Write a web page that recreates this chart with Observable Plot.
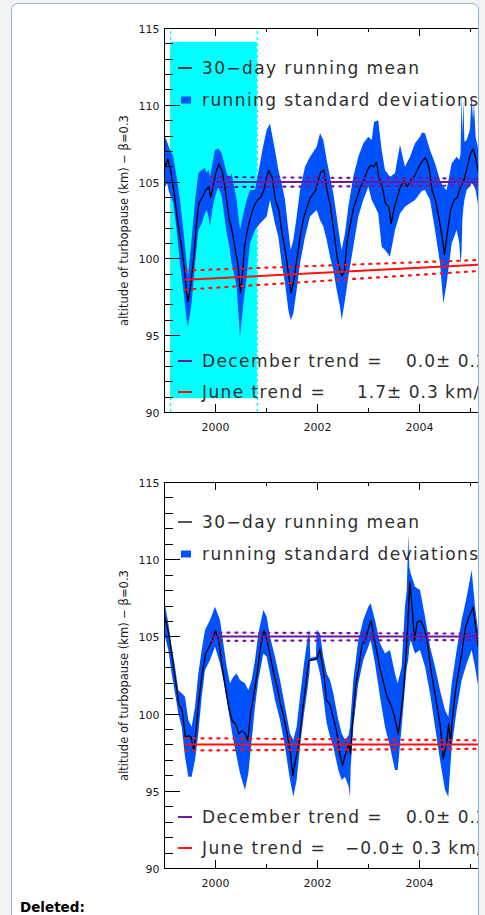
<!DOCTYPE html>
<html>
<head>
<meta charset="utf-8">
<script src="https://cdn.jsdelivr.net/npm/d3@7"></script>
<script src="https://cdn.jsdelivr.net/npm/@observablehq/plot@0.6"></script>
<style>
html,body{margin:0;padding:0;}
body{width:485px;height:915px;background:#f2f2f2;position:relative;overflow:hidden;font-family:"DejaVu Sans",sans-serif;}
#box{position:absolute;left:11px;top:3px;width:466px;height:1000px;border:1px solid #8bb6da;border-radius:7px;background:#fff;overflow:hidden;}
.chart{position:absolute;left:92px;width:437px;}
.chart svg{max-width:none !important;display:block;}
#c1{top:4px;}
#c2{top:458px;}
#deleted{position:absolute;left:8px;top:895px;line-height:16px;font:bold 13.5px "DejaVu Sans",Verdana,sans-serif;color:#000;}
</style>
</head>
<body>
<div id="box">
  <div id="c1" class="chart"></div>
  <div id="c2" class="chart"></div>
  <div id="deleted">Deleted:</div>
</div>
<script>
// ---------- axes ----------
const xDomain = [1999, 2006];
const yDomain = [90, 115];
const yTickLabels = [90, 95, 100, 105, 110, 115];
const yMinorTicks = [90,91,92,93,94,95,96,97,98,99,100,101,102,103,104,105,106,107,108,109,110,111,112,113,114,115];
const xTickLabels = [2000, 2002, 2004, 2006];
const xMinorTicks = [2000, 2001, 2002, 2003, 2004, 2005, 2006];
const yLabel = "altitude of turbopause (km) \u2212 \u03B2=0.3";

// ---------- legend texts ----------
const legendLabels = ["30\u2212day running mean", "running standard deviations"];
const trendNames = ["December trend =", "June trend ="];
const trendValues1 = ["0.0\u00B1 0.2 km/decade", "1.7\u00B1 0.3 km/decade"];
const trendValues2 = ["0.0\u00B1 0.2 km/decade", "\u22120.0\u00B1 0.3 km/decade"];

// ---------- highlight (top chart) ----------
const highlightYears = [1999.12, 2000.82];
const highlightKm = [90.9, 114.1];

// ---------- chart 1: 30-day running mean [year, km] ----------
const mean1 = [
[1999.0,106.2],[1999.02,106.0],[1999.065,106.5],[1999.118,105.8],[1999.183,104.45],[1999.248,102.7],[1999.314,101.2],
[1999.379,99.7],[1999.431,97.9],[1999.458,97.2],[1999.51,98.2],[1999.575,100.1],[1999.627,102.3],[1999.673,103.6],
[1999.739,104.0],[1999.804,104.45],[1999.869,104.7],[1999.902,104.0],[1999.935,104.45],[2000.0,105.5],[2000.065,106.2],
[2000.131,105.7],[2000.196,104.45],[2000.261,102.7],[2000.327,101.8],[2000.392,100.5],[2000.438,99.7],[2000.49,97.8],
[2000.523,98.8],[2000.569,100.8],[2000.621,101.8],[2000.686,102.7],[2000.752,103.4],[2000.817,103.8],[2000.882,104.0],
[2000.948,104.45],[2001.0,105.3],[2001.046,105.75],[2001.111,105.3],[2001.176,103.8],[2001.242,103.2],[2001.307,101.6],
[2001.373,100.5],[2001.438,98.8],[2001.484,97.8],[2001.536,98.6],[2001.601,100.1],[2001.667,101.6],[2001.732,102.7],
[2001.797,103.4],[2001.863,104.0],[2001.961,104.45],[2002.059,105.6],[2002.124,105.8],[2002.19,104.45],[2002.255,103.4],
[2002.32,101.8],[2002.386,100.1],[2002.451,99.1],[2002.484,98.9],[2002.529,99.2],[2002.582,101.2],[2002.647,102.3],
[2002.712,103.4],[2002.778,104.0],[2002.843,104.7],[2002.908,105.1],[2002.974,105.75],[2003.039,106.1],[2003.105,106.0],
[2003.157,106.3],[2003.203,105.3],[2003.268,104.7],[2003.333,103.6],[2003.399,103.4],[2003.444,102.3],[2003.497,103.2],
[2003.562,104.0],[2003.627,104.7],[2003.693,105.1],[2003.758,104.7],[2003.824,105.1],[2003.889,105.3],[2003.954,105.75],
[2004.02,106.2],[2004.118,106.6],[2004.183,106.0],[2004.248,104.45],[2004.314,103.8],[2004.379,102.7],[2004.444,101.4],
[2004.49,100.3],[2004.542,101.6],[2004.608,103.15],[2004.673,103.8],[2004.739,104.0],[2004.804,104.67],[2004.869,105.1],
[2004.935,105.97],[2005.0,106.84],[2005.052,107.16],[2005.098,106.62],[2005.163,105.54],[2005.229,104.45],[2005.294,104.0]
];

// ---------- chart 1: running standard deviation band [year, upper, lower] ----------
const band1 = [
[1999.0,108.0,104.8],[1999.02,107.92,104.67],[1999.06,107.6,104.9],[1999.1,107.2,104.3],[1999.183,106.62,103.59],
[1999.248,105.32,101.85],[1999.314,103.8,99.68],[1999.379,101.85,97.94],[1999.444,99.68,95.99],[1999.47,98.81,95.55],
[1999.54,101.2,97.07],[1999.61,103.8,99.68],[1999.673,105.54,101.85],[1999.739,105.75,102.28],[1999.8,105.9,102.9],
[1999.837,105.54,103.15],[1999.87,105.8,102.8],[1999.902,105.32,102.07],[1999.95,106.2,103.2],[2000.0,107.06,104.02],
[2000.065,107.16,104.67],[2000.131,106.84,104.02],[2000.229,105.54,101.63],[2000.28,105.2,100.8],[2000.327,105.54,99.68],
[2000.425,103.8,98.16],[2000.49,101.85,94.9],[2000.556,102.93,97.07],[2000.621,103.8,98.81],[2000.686,104.45,100.98],
[2000.784,104.45,101.85],[2000.882,106.19,102.28],[2000.95,107.4,102.5],[2001.013,108.36,102.72],[2001.078,108.79,103.8],
[2001.176,107.06,102.28],[2001.242,105.75,101.41],[2001.307,104.89,99.68],[2001.373,103.8,98.38],[2001.438,101.85,96.64],
[2001.484,100.55,95.99],[2001.536,101.2,96.42],[2001.601,102.72,97.94],[2001.667,104.45,99.68],[2001.765,105.97,101.41],
[2001.863,106.62,102.72],[2001.993,107.27,103.15],[2002.059,108.14,102.5],[2002.124,107.71,102.07],[2002.19,106.4,101.2],
[2002.255,105.32,100.11],[2002.32,104.24,99.24],[2002.386,102.72,97.94],[2002.451,101.2,96.86],[2002.484,100.55,95.99],
[2002.549,101.63,97.29],[2002.614,103.37,98.81],[2002.712,105.32,100.76],[2002.81,106.62,102.72],[2002.908,107.49,103.8],
[2003.007,107.92,104.67],[2003.072,107.71,103.8],[2003.12,108.9,103.5],[2003.2,109.0,102.93],[2003.268,107.06,100.76],
[2003.333,105.75,100.55],[2003.431,105.32,100.11],[2003.529,105.54,101.85],[2003.627,107.4,102.93],[2003.725,105.97,103.37],
[2003.824,106.62,103.59],[2003.922,107.49,103.8],[2004.02,107.92,104.24],[2004.06,108.2,104.4],[2004.118,108.14,104.45],
[2004.216,107.06,103.8],[2004.314,106.19,101.85],[2004.412,105.1,99.68],[2004.477,104.67,97.07],[2004.542,104.45,98.38],
[2004.641,106.19,100.98],[2004.739,106.62,101.85],[2004.79,106.4,101.0],[2004.815,106.8,99.6],[2004.835,110.7,100.5],
[2004.85,108.0,102.5],[2004.87,110.3,103.3],[2004.89,107.6,103.8],[2004.935,107.71,104.45],[2005.0,108.4,104.7],
[2005.03,110.6,104.89],[2005.06,109.0,104.8],[2005.078,110.2,104.7],[2005.11,107.9,104.45],[2005.196,106.62,102.72],
[2005.294,105.54,102.28],[2005.4,105.0,101.5]
];

// ---------- chart 1: trends [year, km] ----------
const decMid1 = [[1999.92,105.0],[2006.0,105.0]];
const decHi1  = [[1999.92,105.33],[2005.29,105.22]];
const decLo1  = [[1999.92,104.67],[2005.29,104.78]];
const junMid1 = [[1999.41,98.64],[2005.29,99.64]];
const junHi1  = [[1999.41,99.24],[2005.29,99.94]];
const junLo1  = [[1999.41,98.0],[2005.29,99.24]];

// ---------- chart 2: 30-day running mean [year, km] ----------
const mean2 = [
[1999.0,106.3],[1999.039,105.84],[1999.085,105.2],[1999.15,103.68],[1999.216,102.17],[1999.281,100.66],[1999.346,100.23],
[1999.412,98.5],[1999.477,98.61],[1999.523,98.5],[1999.575,97.64],[1999.627,99.15],[1999.673,100.88],[1999.739,102.6],
[1999.804,103.9],[1999.869,104.33],[1999.935,104.76],[2000.0,105.41],[2000.065,104.76],[2000.131,103.04],[2000.196,101.74],
[2000.261,100.45],[2000.327,99.58],[2000.392,99.37],[2000.458,98.72],[2000.523,98.93],[2000.588,98.72],[2000.634,98.29],
[2000.686,100.01],[2000.752,101.31],[2000.817,102.6],[2000.882,104.33],[2000.948,105.41],[2001.013,104.76],[2001.078,103.68],
[2001.144,102.6],[2001.209,101.74],[2001.275,100.66],[2001.34,99.8],[2001.405,98.72],[2001.471,97.42],[2001.516,96.02],
[2001.569,96.99],[2001.634,98.07],[2001.699,100.01],[2001.765,101.74],[2001.83,103.47],[2001.993,103.58],[2002.046,104.2],
[2002.092,103.25],[2002.124,102.6],[2002.176,100.88],[2002.241,100.66],[2002.307,99.8],[2002.373,98.93],[2002.438,97.42],
[2002.49,96.67],[2002.549,97.42],[2002.614,98.07],[2002.647,97.42],[2002.68,99.15],[2002.745,101.74],[2002.81,103.04],
[2002.876,104.55],[2002.941,104.76],[2003.007,105.63],[2003.052,106.06],[2003.105,104.98],[2003.17,103.9],[2003.235,102.82],
[2003.301,101.96],[2003.366,101.09],[2003.431,100.66],[2003.497,100.01],[2003.582,98.72],[2003.627,99.8],[2003.68,101.31],
[2003.725,103.25],[2003.771,105.84],[2003.81,108.54],[2003.856,106.92],[2003.902,104.76],[2003.954,105.95],[2004.02,106.06],
[2004.085,105.63],[2004.15,104.76],[2004.216,103.04],[2004.281,101.74],[2004.346,100.45],[2004.412,99.15],[2004.464,97.1],
[2004.529,98.07],[2004.575,99.37],[2004.608,98.07],[2004.641,99.58],[2004.706,101.52],[2004.771,102.82],[2004.837,104.12],
[2004.902,105.63],[2004.967,106.27],[2005.052,106.92],[2005.118,105.2],[2005.183,103.68],[2005.261,102.6]
];

// ---------- chart 2: running standard deviation band [year, upper, lower] ----------
const band2 = [
[1999.0,107.2,105.2],[1999.02,107.03,104.98],[1999.085,105.84,104.12],[1999.15,104.33,102.6],[1999.216,103.04,101.31],
[1999.281,101.52,100.01],[1999.346,101.31,99.15],[1999.412,101.09,97.21],[1999.477,99.58,95.91],[1999.542,99.15,95.91],
[1999.608,100.45,96.99],[1999.673,102.6,98.72],[1999.739,104.12,101.09],[1999.804,105.41,102.82],[1999.902,106.06,103.47],
[2000.0,106.92,104.33],[2000.098,106.06,103.25],[2000.163,104.55,102.17],[2000.229,103.04,100.88],[2000.294,101.96,99.58],
[2000.359,102.39,98.29],[2000.425,102.6,97.21],[2000.49,102.17,96.13],[2000.588,101.96,95.05],[2000.654,101.52,96.13],
[2000.719,102.17,98.29],[2000.784,103.47,100.45],[2000.85,105.2,102.17],[2000.948,106.71,103.9],[2001.013,106.27,103.68],
[2001.078,104.98,102.6],[2001.176,103.68,100.88],[2001.275,102.17,99.58],[2001.373,100.45,97.85],[2001.471,98.72,95.7],
[2001.536,98.29,94.62],[2001.601,99.15,95.7],[2001.667,101.09,97.85],[2001.745,103.25,100.01],[2001.81,104.76,101.52],
[2001.85,105.41,102.6],[2001.87,103.6,103.4],[2001.98,103.7,103.45],[2001.993,105.41,103.47],[2002.059,105.2,102.6],
[2002.124,103.68,101.09],[2002.19,102.6,99.37],[2002.255,102.17,98.5],[2002.32,101.31,97.85],[2002.418,99.58,96.34],
[2002.484,98.72,95.7],[2002.549,98.29,95.91],[2002.62,98.6,95.3],[2002.647,99.15,94.62],[2002.66,99.8,96.5],
[2002.712,102.17,99.15],[2002.81,104.76,101.96],[2002.908,106.06,103.47],[2003.007,106.92,104.33],[2003.052,107.14,104.76],
[2003.137,106.06,103.25],[2003.235,104.55,101.09],[2003.333,103.9,99.15],[2003.431,104.12,97.85],[2003.529,102.6,96.34],
[2003.582,101.96,96.34],[2003.66,103.04,99.15],[2003.725,106.92,101.74],[2003.76,108.0,103.0],[2003.79,111.6,103.5],
[2003.81,109.5,104.3],[2003.837,109.08,104.76],[2003.922,108.22,103.9],[2004.02,108.0,104.12],[2004.118,106.27,103.04],
[2004.216,104.33,101.31],[2004.314,103.04,99.15],[2004.412,101.52,96.99],[2004.51,100.23,95.05],[2004.575,99.8,94.62],
[2004.641,101.96,97.85],[2004.739,104.12,100.23],[2004.837,106.06,102.17],[2004.935,107.57,103.25],[2005.033,109.3,104.12],
[2005.098,106.92,103.04],[2005.183,104.76,101.31],[2005.261,103.68,100.45]
];

// ---------- chart 2: trends [year, km] ----------
const decMid2 = [[1999.92,105.03],[2006.0,105.03]];
const decHi2  = [[1999.92,105.28],[2005.29,105.21]];
const decLo2  = [[1999.92,104.74],[2005.29,104.8]];
const junMid2 = [[1999.41,98.03],[2006.0,98.03]];
const junHi2  = [[1999.41,98.44],[2005.29,98.3]];
const junLo2  = [[1999.41,97.64],[2005.29,97.75]];

// ---------- styling ----------
const BLUE = "#0052ff", CYAN = "#00ffff", PURPLE = "#6a1a9e", RED = "#ff1010";
const FONT = "DejaVu Sans, sans-serif";

function drawChart(el, o) {
  const mL = 60, mT = 20, mR = 20, mB = 30;
  const width = mL + 357 + mR;
  const height = mT + o.frameH + mB;
  const band = o.band.map(([t, hi, lo]) => ({t, hi, lo}));
  const mean = o.mean.map(([t, v]) => ({t, v}));
  const tl = (pts, stroke, dash) => Plot.line(pts.map(([t, v]) => ({t, v})), {
    x: "t", y: "v", stroke, strokeWidth: dash ? 2.2 : 2, strokeDasharray: dash, clip: true
  });
  const marks = [];
  if (o.highlight) {
    marks.push(Plot.ruleX(highlightYears, {x: d => d, y1: yDomain[0], y2: yDomain[1], stroke: CYAN, strokeWidth: 1.3, strokeDasharray: "3,3"}));
    marks.push(Plot.rect([highlightYears], {x1: d => d[0], x2: d => d[1], y1: () => highlightKm[0], y2: () => highlightKm[1], fill: CYAN}));
  }
  marks.push(
    Plot.areaY(band, {x: "t", y1: "lo", y2: "hi", fill: BLUE, clip: true}),
    Plot.line(mean, {x: "t", y: "v", stroke: "black", strokeWidth: 1.3, clip: true}),
    tl(o.decMid, PURPLE), tl(o.decHi, PURPLE, "2,6"), tl(o.decLo, PURPLE, "2,6"),
    tl(o.junMid, RED), tl(o.junHi, RED, "2,6"), tl(o.junLo, RED, "2,6"),
    Plot.frame({stroke: "black", strokeWidth: 1}),
    Plot.axisY({ticks: yTickLabels, tickSize: 0, tickPadding: 5, fontSize: 11, dy: 1, label: null, fill: "#1a1a1a"}),
    Plot.axisX({ticks: xTickLabels, tickSize: 0, tickPadding: 11, fontSize: 11, tickFormat: d => String(d), label: null, fill: "#1a1a1a"}),
    Plot.text([yLabel], {text: d => d, frameAnchor: "left", textAnchor: "middle", lineAnchor: "middle", rotate: -90, dx: -40, fontSize: 11.5, fill: "#1a1a1a"})
  );
  const fig = Plot.plot({
    width, height, marginLeft: mL, marginTop: mT, marginRight: mR, marginBottom: mB,
    x: {domain: xDomain, label: null},
    y: {domain: yDomain, label: null},
    style: {fontFamily: FONT, color: "#000", background: "white", overflow: "visible"},
    marks
  });
  const xs = fig.scale("x"), ys = fig.scale("y");
  const L = xs.apply(xDomain[0]), R = xs.apply(xDomain[1]);
  const T = ys.apply(yDomain[1]), B = ys.apply(yDomain[0]);
  const svg = d3.select(fig);
  // inward ticks
  const g = svg.append("g").attr("stroke", "#000").attr("stroke-width", 1);
  yMinorTicks.forEach(v => {
    const y = Math.round(ys.apply(v)) + 0.5, len = yTickLabels.includes(v) ? 16 : 9;
    g.append("line").attr("x1", L).attr("x2", L + len).attr("y1", y).attr("y2", y);
    g.append("line").attr("x1", R).attr("x2", R - len).attr("y1", y).attr("y2", y);
  });
  xMinorTicks.forEach(v => {
    const x = Math.round(xs.apply(v)) + 0.5, len = xTickLabels.includes(v) ? 8 : 4;
    g.append("line").attr("x1", x).attr("x2", x).attr("y1", B).attr("y2", B - len);
    g.append("line").attr("x1", x).attr("x2", x).attr("y1", T).attr("y2", T + len);
  });
  // legend
  const lg = svg.append("g")
    .attr("font-family", FONT).attr("font-size", 17)
    .attr("text-anchor", "start")
    .attr("fill", "#2e2e2e").style("white-space", "pre");
  const rows = [
    {y: T + 40, kind: "line", color: "#000", sw: 1.3, parts: [[38, legendLabels[0], 1.4]]},
    {y: T + 71.5, kind: "rect", color: BLUE, parts: [[38, legendLabels[1], 1.4]]},
    {y: B - 51, kind: "line", color: PURPLE, sw: 2, parts: [[38, trendNames[0], 1.4], [242, o.trendValues[0], 1.0]]},
    {y: B - 20, kind: "line", color: RED, sw: 2, parts: [[38, trendNames[1], 1.4], [o.juneValueX, o.trendValues[1], 1.0]]}
  ];
  rows.forEach(r => {
    if (r.kind === "line") {
      lg.append("line").attr("x1", L + 14).attr("x2", L + 28).attr("y1", r.y).attr("y2", r.y)
        .attr("stroke", r.color).attr("stroke-width", r.sw);
    } else {
      lg.append("rect").attr("x", L + 17).attr("y", r.y - 3).attr("width", 10).attr("height", 7).attr("fill", r.color);
    }
    r.parts.forEach(([dx, s, ls]) => {
      lg.append("text").attr("x", L + dx).attr("y", r.y + 6).attr("text-anchor", "start")
        .attr("letter-spacing", ls).text(s);
    });
  });
  el.appendChild(fig);
}

drawChart(document.getElementById("c1"), {
  frameH: 384, highlight: true, mean: mean1, band: band1,
  decMid: decMid1, decHi: decHi1, decLo: decLo1, junMid: junMid1, junHi: junHi1, junLo: junLo1,
  trendValues: trendValues1, juneValueX: 193
});
drawChart(document.getElementById("c2"), {
  frameH: 386, highlight: false, mean: mean2, band: band2,
  decMid: decMid2, decHi: decHi2, decLo: decLo2, junMid: junMid2, junHi: junHi2, junLo: junLo2,
  trendValues: trendValues2, juneValueX: 181
});
</script>
</body>
</html>
